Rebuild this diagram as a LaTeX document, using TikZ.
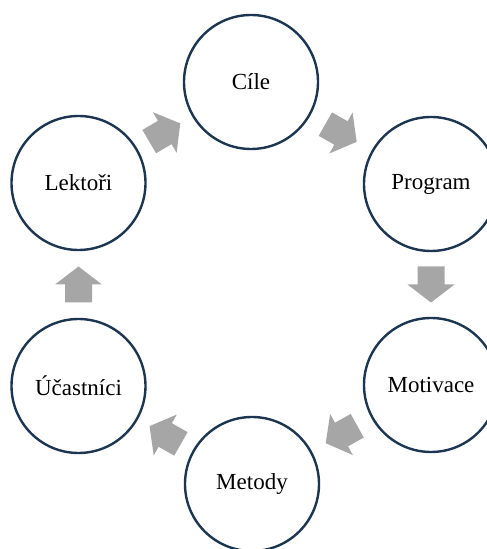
\documentclass[tikz,border=0pt]{standalone}
\usepackage{fontspec}
\setmainfont{Liberation Serif}
\usetikzlibrary{calc}
\definecolor{ringblue}{HTML}{1C3550}
\definecolor{arrowgray}{HTML}{A6A6A6}
\tikzset{
  stage/.style={circle, draw=ringblue, line width=2.4pt, fill=white,
    minimum size=134pt, inner sep=0pt, font=\fontsize{23}{27}\selectfont},
  blockarrow/.pic={
    \fill[arrowgray] (-18pt,-13.5pt) -- (0pt,-13.5pt) -- (0pt,-23.5pt)
      -- (18pt,0pt) -- (0pt,23.5pt) -- (0pt,13.5pt) -- (-18pt,13.5pt) -- cycle;
  }
}
\begin{document}
\begin{tikzpicture}[x=1pt,y=1pt]
  \useasboundingbox (0,0) rectangle (487,549);
  \clip (0,0) rectangle (487,549);
  \fill[white] (0,0) rectangle (487,549);
  % the six stages of the cycle
  \node[stage] (cile) at (251,467) {Cíle};
  \node[stage] (prog) at (431,365) {Program};
  \node[stage] (mot)  at (431,164) {Motivace};
  \node[stage] (met)  at (252,65)  {Metody};
  \node[stage] (uca)  at (78.5,163) {Účastníci};
  \node[stage] (lek)  at (78.5,366) {Lektoři};
  % block arrows halfway between neighbouring stages
  \foreach \a/\b in {lek/cile, cile/prog, prog/mot, mot/met, met/uca, uca/lek}{
    \path let \p1=(\a.center), \p2=(\b.center),
              \n1={atan2(\y2-\y1,\x2-\x1)} in
      pic[rotate=\n1] at ($(\p1)!0.5!(\p2)$) {blockarrow};
  }
\end{tikzpicture}
\end{document}
